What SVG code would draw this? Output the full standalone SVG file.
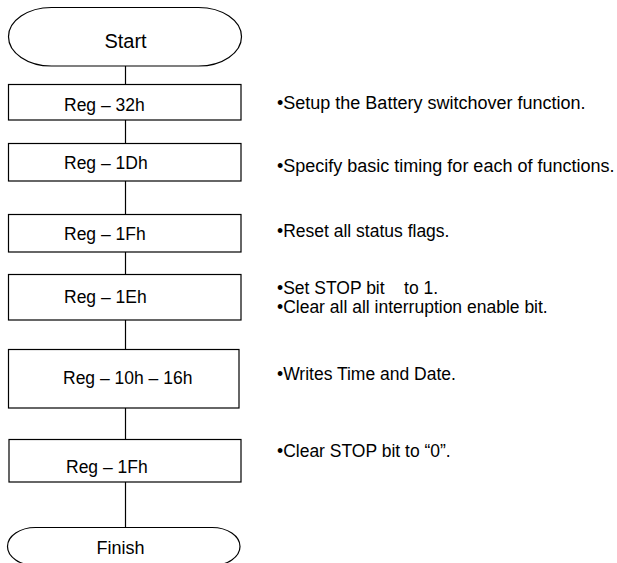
<svg xmlns="http://www.w3.org/2000/svg" width="617" height="563" viewBox="0 0 617 563">
<style>
.bg{fill:#fff}
.shape{fill:#fff;stroke:#000;stroke-width:1.2}
.conn line{stroke:#000;stroke-width:1.2}
text{font-family:"Liberation Sans",Arial,sans-serif;fill:#000}
.lbl{font-size:17.5px}
.term{font-size:20px;text-anchor:middle}
.fin{font-size:18px;text-anchor:middle}
.note{font-size:17.5px;white-space:pre}
.big{font-size:18px}
</style>
<rect class="bg" x="0" y="0" width="617" height="563"/>
<g id="connectors" class="conn">
<line x1="125.5" y1="66" x2="125.5" y2="84"/>
<line x1="125.5" y1="120" x2="125.5" y2="143"/>
<line x1="125.5" y1="181" x2="125.5" y2="214"/>
<line x1="125.5" y1="252" x2="125.5" y2="274"/>
<line x1="125.5" y1="320" x2="125.5" y2="349"/>
<line x1="125.5" y1="408" x2="125.5" y2="439"/>
<line x1="125.5" y1="482" x2="125.5" y2="527"/>
</g>
<g id="start">
<rect class="shape" x="8.5" y="7.5" width="233" height="58.5" rx="43" ry="29.25"/>
<text class="term" x="125.5" y="47.5">Start</text>
</g>
<g id="reg32">
<rect class="shape" x="8.5" y="84.5" width="232.5" height="35.5"/>
<text class="lbl" x="64" y="110.5">Reg – 32h</text>
</g>
<g id="reg1D">
<rect class="shape" x="8.5" y="143.5" width="232.5" height="37.5"/>
<text class="lbl" x="64" y="168.5">Reg – 1Dh</text>
</g>
<g id="reg1F">
<rect class="shape" x="8.5" y="214.5" width="232.5" height="37.5"/>
<text class="lbl" x="64" y="240">Reg – 1Fh</text>
</g>
<g id="reg1E">
<rect class="shape" x="8.5" y="274.5" width="232.5" height="45.5"/>
<text class="lbl" x="64" y="302.5">Reg – 1Eh</text>
</g>
<g id="reg10_16">
<rect class="shape" x="8.5" y="349.5" width="230.5" height="58.5"/>
<text class="lbl" x="63" y="384">Reg – 10h – 16h</text>
</g>
<g id="reg1F_2">
<rect class="shape" x="9" y="439.5" width="232" height="42.5"/>
<text class="lbl" x="66" y="472.5">Reg – 1Fh</text>
</g>
<g id="finish">
<rect class="shape" x="7.5" y="527.5" width="232.5" height="38" rx="28" ry="19"/>
<text class="fin" x="120.5" y="553.5">Finish</text>
</g>
<g id="notes">
<text class="note big" x="277" y="109">•Setup the Battery switchover function.</text>
<text class="note big" x="277" y="171.5">•Specify basic timing for each of functions.</text>
<text class="note" x="277" y="236.5">•Reset all status flags.</text>
<text class="note" x="277" y="293.5" xml:space="preserve">•Set STOP bit    to 1.</text>
<text class="note" x="277" y="313.2">•Clear all all interruption enable bit.</text>
<text class="note" x="277" y="380">•Writes Time and Date.</text>
<text class="note" x="277" y="456.5">•Clear STOP bit to “0”.</text>
</g>
</svg>
